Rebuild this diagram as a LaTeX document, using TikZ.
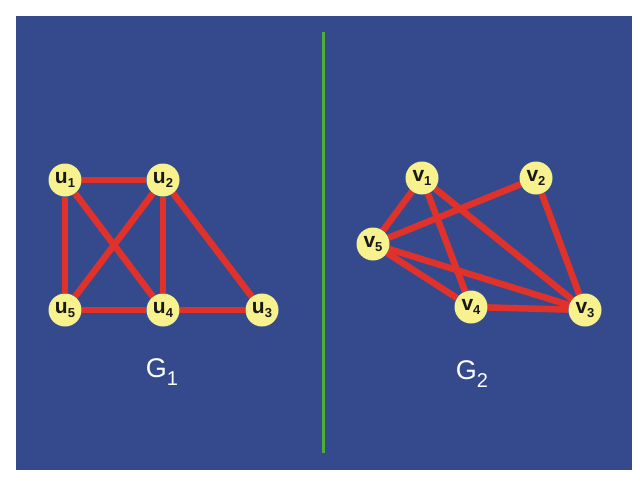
\documentclass[tikz,border=0pt]{standalone}
\usepackage{fontspec}
\setmainfont{Liberation Sans}
\definecolor{bgblue}{HTML}{354A8C}
\definecolor{edgered}{HTML}{E0322B}
\definecolor{nodeyellow}{HTML}{F7F28E}
\definecolor{linegreen}{HTML}{4DAF3A}
\pgfdeclarelayer{bglayer}
\pgfdeclarelayer{edgelayer}
\pgfsetlayers{bglayer,edgelayer,main}
\newcommand{\vlab}[2]{#1\raisebox{-4pt}{\fontsize{13}{13}\selectfont #2}}
\begin{document}
\begin{tikzpicture}[x=1pt,y=-1pt,
  vtx/.style={circle,fill=nodeyellow,minimum size=33pt,inner sep=0pt,text=black!90,font=\bfseries\fontsize{21}{21}\selectfont},
  edg/.style={draw=edgered,line width=6.5pt},
  glabel/.style={text=white,font=\fontsize{27}{27}\selectfont}]
\useasboundingbox (0,0) rectangle (640,480);
\begin{pgfonlayer}{bglayer}
\fill[white] (0,0) rectangle (640,480);
\fill[bgblue] (16,16) rectangle (632,470);
\end{pgfonlayer}
\coordinate (gtop) at (323,32);
\coordinate (gbot) at (323,453);
\draw[linegreen,line width=3pt] (gtop) -- (gbot);
% G1
\node[vtx] (u1) at (65,180) {\vlab{u}{1}};
\node[vtx] (u2) at (163,180) {\vlab{u}{2}};
\node[vtx] (u5) at (65,310) {\vlab{u}{5}};
\node[vtx] (u4) at (163,310) {\vlab{u}{4}};
\node[vtx] (u3) at (262,310) {\vlab{u}{3}};
% G2
\node[vtx] (v1) at (422,178) {\vlab{v}{1}};
\node[vtx] (v2) at (536,178) {\vlab{v}{2}};
\node[vtx] (v5) at (373,244) {\vlab{v}{5}};
\node[vtx] (v4) at (471,307) {\vlab{v}{4}};
\node[vtx] (v3) at (585,310) {\vlab{v}{3}};
\begin{pgfonlayer}{edgelayer}
\foreach \a/\b in {u1/u2,u1/u5,u1/u4,u2/u5,u2/u4,u2/u3,u5/u4,u4/u3,
  v1/v5,v1/v4,v1/v3,v2/v5,v2/v3,v5/v3,v5/v4,v4/v3}
  \draw[edg] (\a) -- (\b);
\end{pgfonlayer}
\node[glabel] (g1) at (162,372) {G\raisebox{-8pt}{\fontsize{20}{20}\selectfont 1}};
\node[glabel] (g2) at (472,374) {G\raisebox{-8pt}{\fontsize{20}{20}\selectfont 2}};
\end{tikzpicture}
\end{document}
